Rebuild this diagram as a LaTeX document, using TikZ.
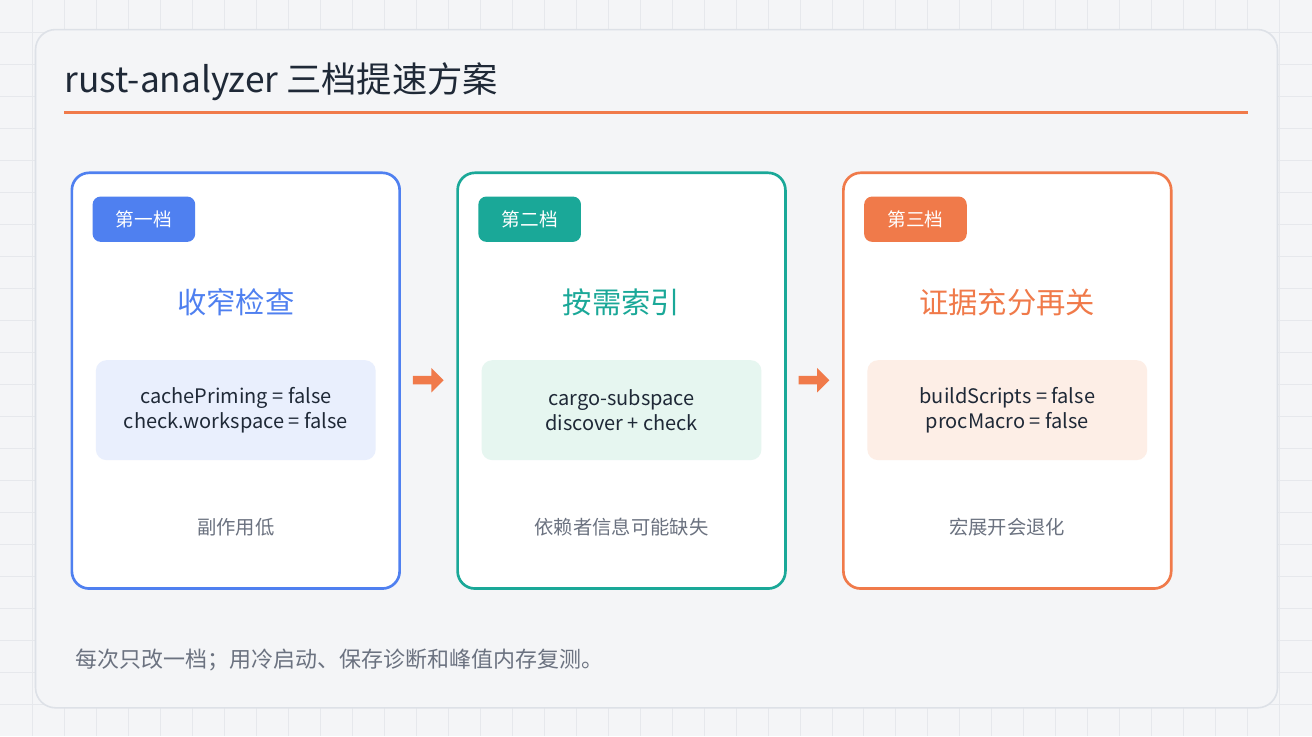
\documentclass[tikz,border=0pt]{standalone}
\usepackage{fontspec}
\setmainfont{Noto Sans CJK SC}
\usetikzlibrary{positioning,shapes.arrows}
\definecolor{pagebg}{HTML}{F4F5F7}
\definecolor{gridc}{HTML}{E6E8EC}
\definecolor{panelc}{HTML}{DDE1E7}
\definecolor{ink}{HTML}{1F2937}
\definecolor{muted}{HTML}{6B7280}
\definecolor{blue}{HTML}{4F80F0}
\definecolor{teal}{HTML}{1AA898}
\definecolor{orange}{HTML}{F07A4A}
\definecolor{bluebg}{HTML}{E9EFFD}
\definecolor{tealbg}{HTML}{E6F6F0}
\definecolor{orangebg}{HTML}{FDEEE6}
\begin{document}
\begin{tikzpicture}[
    x=0.75pt,y=-0.75pt,
    card/.style={
      draw=#1,line width=2pt,fill=white,rounded corners=13pt,
      minimum width=246pt,minimum height=312pt,anchor=center
    },
    badge/.style={
      fill=#1,rounded corners=6pt,text=white,font=\fontsize{14}{16}\selectfont,
      minimum width=77pt,minimum height=34pt,anchor=north west
    },
    heading/.style={text=#1,font=\fontsize{22}{25}\selectfont},
    setting/.style={
      fill=#1,rounded corners=8pt,text=ink,align=center,
      font=\fontsize{15}{19}\selectfont,
      minimum width=210pt,minimum height=75pt
    },
    note/.style={text=muted,font=\fontsize{14.5}{17}\selectfont},
    stepper/.style={
      single arrow,fill=orange,single arrow head extend=6pt,
      minimum height=23pt,minimum width=18pt,inner xsep=0pt,inner ysep=3pt,
      single arrow tip angle=90
    }
  ]
    % background and grid
    \fill[pagebg] (0,0) rectangle (1312,736);
    \foreach \g in {32,64,...,1300} \draw[gridc,line width=0.6pt] (\g,0) -- (\g,736);
    \foreach \g in {32,64,...,730} \draw[gridc,line width=0.6pt] (0,\g) -- (1312,\g);
    \node[draw=panelc,line width=1.2pt,fill=pagebg,rounded corners=15pt,
      minimum width=932pt,minimum height=509pt] (panel) at (656.5,368.5) {};

    % title
    \node[anchor=base west,text=ink,font=\fontsize{26.5}{30}\selectfont,inner sep=0pt]
      (title) at (64,92) {rust-analyzer 三档提速方案};
    \coordinate (ruleL) at (64,112);
    \coordinate (ruleR) at (1248,112);
    \draw[orange,line width=2.4pt] (ruleL) -- (ruleR);

    % tier one
    \node[card=blue] (tierA) at (235.5,380.5) {};
    \node[badge=blue] (badgeA) at (92,196) {第一档};
    \node[heading=blue] (headA) at (235.5,302) {收窄检查};
    \node[setting=bluebg] (setA) at (235.5,410) {cachePriming = false\\check.workspace = false};
    \node[note] (noteA) at (235.5,527) {副作用低};

    % tier two
    \node[card=teal] (tierB) at (621.5,380.5) {};
    \node[badge=teal] (badgeB) at (478,196) {第二档};
    \node[heading=teal] (headB) at (621.5,302) {按需索引};
    \node[setting=tealbg] (setB) at (621.5,410) {cargo-subspace\\discover + check};
    \node[note] (noteB) at (621.5,527) {依赖者信息可能缺失};

    % tier three
    \node[card=orange] (tierC) at (1007.5,380.5) {};
    \node[badge=orange] (badgeC) at (864,196) {第三档};
    \node[heading=orange] (headC) at (1007.5,302) {证据充分再关};
    \node[setting=orangebg] (setC) at (1007.5,410) {buildScripts = false\\procMacro = false};
    \node[note] (noteC) at (1007.5,527) {宏展开会退化};

    % steps
    \node[stepper] (stepAB) at (426,380) {};
    \node[stepper] (stepBC) at (812,380) {};

    % footnote
    \node[anchor=base west,text=muted,font=\fontsize{16.5}{19}\selectfont,inner sep=0pt]
      (foot) at (75,667) {每次只改一档；用冷启动、保存诊断和峰值内存复测。};
  \end{tikzpicture}
\end{document}
